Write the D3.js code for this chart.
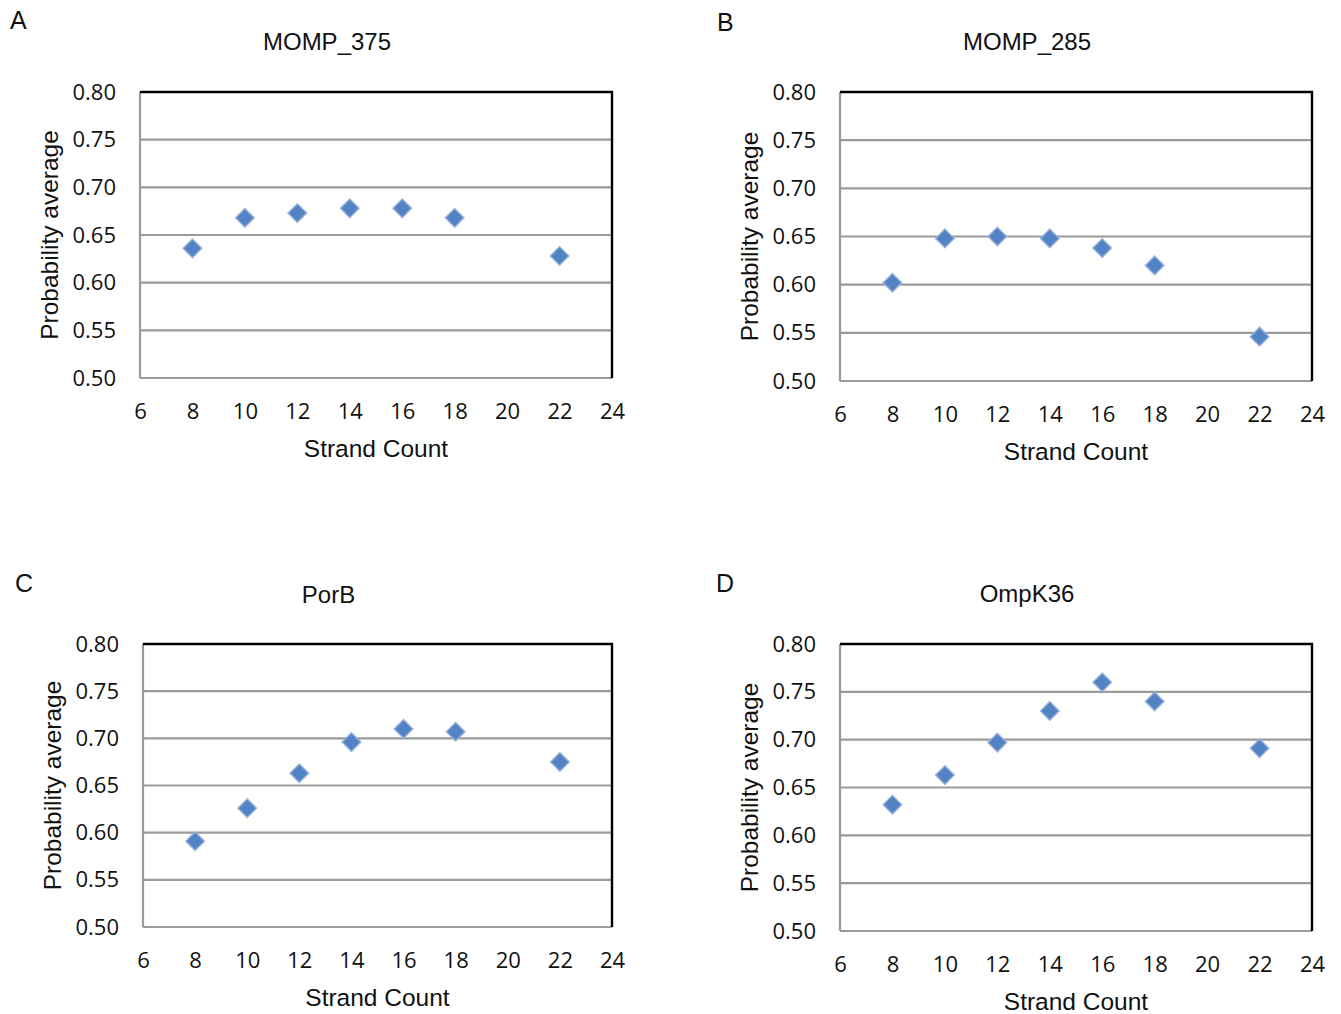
<!DOCTYPE html>
<html>
<head>
<meta charset="utf-8">
<script src="https://cdn.jsdelivr.net/npm/d3@7"></script>
<style>
  html, body { margin: 0; padding: 0; background: #fff; }
  svg { display: block; }
</style>
</head>
<body>
<svg id="chart" width="1341" height="1014"></svg>
<script>
// ---- data ----
const strandCounts = [8, 10, 12, 14, 16, 18, 22];
const momp375 = [0.636, 0.668, 0.673, 0.678, 0.678, 0.668, 0.628];
const momp285 = [0.602, 0.648, 0.650, 0.648, 0.638, 0.620, 0.546];
const porB    = [0.591, 0.626, 0.663, 0.696, 0.710, 0.707, 0.675];
const ompK36  = [0.632, 0.663, 0.697, 0.730, 0.760, 0.740, 0.691];
const panelLetters = ["A", "B", "C", "D"];
const panelTitles = ["MOMP_375", "MOMP_285", "PorB", "OmpK36"];
const xTicks = [6, 8, 10, 12, 14, 16, 18, 20, 22, 24];
const yTicks = [0.50, 0.55, 0.60, 0.65, 0.70, 0.75, 0.80];
const xDomain = [6, 24];
const yDomain = [0.50, 0.80];
const xLabel = "Strand Count";
const yLabel = "Probability average";

const seriesList = [momp375, momp285, porB, ompK36];

// ---- layout ----
const layouts = [
  { left: 140, right: 612, top: 92, bottom: 378, letterX: 10, letterY: 29, titleY: 50 },
  { left: 840, right: 1312, top: 92, bottom: 381, letterX: 717, letterY: 31, titleY: 50 },
  { left: 143, right: 612, top: 644, bottom: 927, letterX: 15, letterY: 592, titleY: 603 },
  { left: 840, right: 1312, top: 644, bottom: 931, letterX: 716, letterY: 592, titleY: 602 }
];

const svg = d3.select("#chart");
const tickFont = "'Open Sans', 'Liberation Sans', sans-serif";
const labelFont = "'Liberation Sans', Arial, sans-serif";

layouts.forEach((L, i) => {
  const g = svg.append("g");
  const x = d3.scaleLinear().domain(xDomain).range([L.left, L.right]);
  const y = d3.scaleLinear().domain(yDomain).range([L.bottom, L.top]);
  const cx = (L.left + L.right) / 2;
  const cy = (L.top + L.bottom) / 2;

  // panel letter
  g.append("text").attr("x", L.letterX).attr("y", L.letterY)
    .attr("font-family", labelFont).attr("font-size", 25).attr("fill", "#111")
    .text(panelLetters[i]);

  // title
  g.append("text").attr("x", cx - 49).attr("y", L.titleY)
    .attr("text-anchor", "middle")
    .attr("font-family", labelFont).attr("font-size", 24).attr("fill", "#111")
    .text(panelTitles[i]);

  // gridlines (gray)
  g.append("g").selectAll("line").data(yTicks.slice(0, -1)).join("line")
    .attr("x1", L.left).attr("x2", L.right)
    .attr("y1", d => y(d)).attr("y2", d => y(d))
    .attr("stroke", "#9a9a9a").attr("stroke-width", 2.2);

  // left axis line (gray)
  g.append("line").attr("x1", L.left).attr("x2", L.left)
    .attr("y1", L.top).attr("y2", L.bottom)
    .attr("stroke", "#9a9a9a").attr("stroke-width", 2.2);

  // top and right border (black)
  g.append("path")
    .attr("d", `M${L.left},${L.top}H${L.right}V${L.bottom}`)
    .attr("fill", "none").attr("stroke", "#000").attr("stroke-width", 2.4);

  // y tick labels
  const yAxis = d3.axisLeft(y).tickValues(yTicks).tickFormat(d3.format(".2f"))
    .tickSize(0).tickPadding(24);
  const ya = g.append("g").attr("transform", `translate(${L.left},0)`).call(yAxis);
  ya.select(".domain").remove();
  ya.selectAll("text").attr("font-family", tickFont).attr("font-size", 22).attr("fill", "#111");

  // x tick labels
  const xAxis = d3.axisBottom(x).tickValues(xTicks).tickFormat(d3.format("d"))
    .tickSize(0).tickPadding(25);
  const xa = g.append("g").attr("transform", `translate(0,${L.bottom})`).call(xAxis);
  xa.select(".domain").remove();
  xa.selectAll("text").attr("font-family", tickFont).attr("font-size", 22).attr("fill", "#111");

  // axis labels
  g.append("text").attr("x", cx).attr("y", L.bottom + 79)
    .attr("text-anchor", "middle")
    .attr("font-family", labelFont).attr("font-size", 24.5).attr("fill", "#111")
    .text(xLabel);
  g.append("text")
    .attr("transform", `translate(${L.left - 82},${cy}) rotate(-90)`)
    .attr("text-anchor", "middle")
    .attr("font-family", labelFont).attr("font-size", 24.5).attr("fill", "#111")
    .text(yLabel);

  // markers
  const sym = d3.symbol().type(d3.symbolSquare).size(175);
  g.append("g").selectAll("path").data(strandCounts.map((s, j) => [s, seriesList[i][j]])).join("path")
    .attr("d", sym)
    .attr("transform", d => `translate(${x(d[0])},${y(d[1])}) rotate(45)`)
    .attr("fill", "#5283c4")
    .attr("stroke", "#9bb3dc").attr("stroke-width", 1.4);
});
</script>
</body>
</html>
